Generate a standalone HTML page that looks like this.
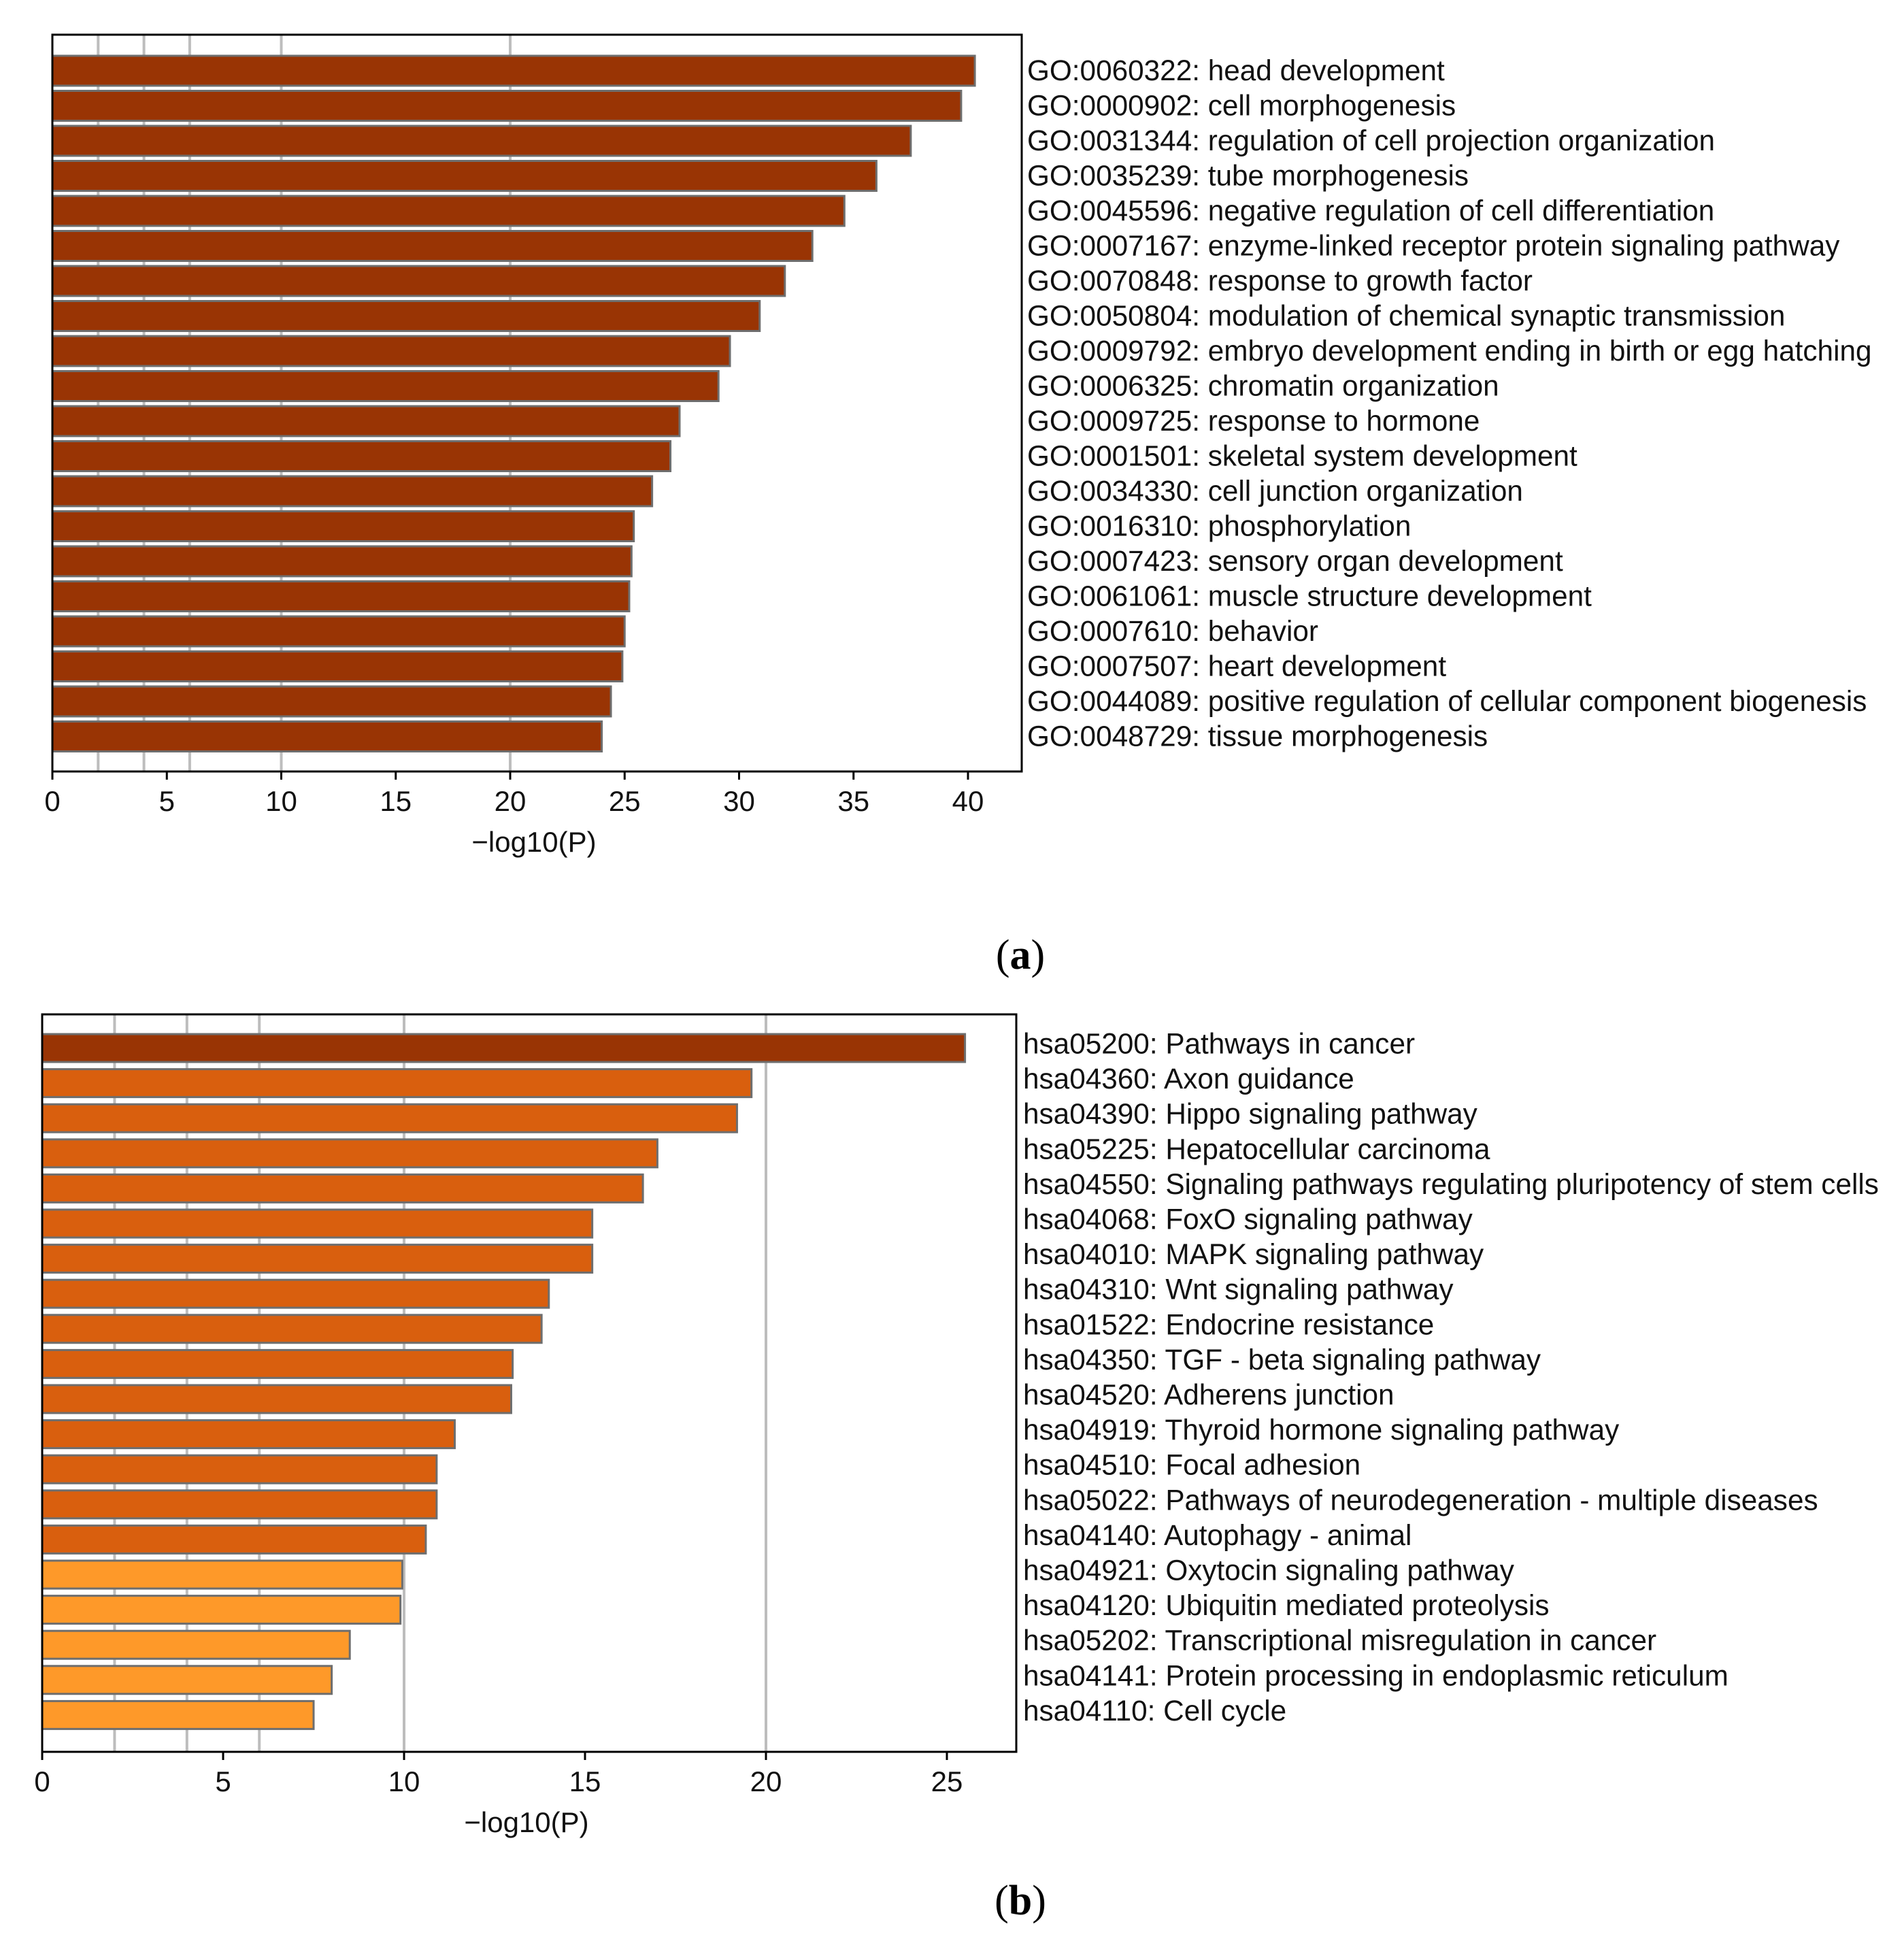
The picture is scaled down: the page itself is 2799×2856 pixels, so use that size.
<!DOCTYPE html>
<html><head><meta charset="utf-8"><style>
html,body{margin:0;padding:0;background:#fff;}
svg{display:block;font-family:"Liberation Sans",sans-serif;}
</style></head><body>
<svg id="root" width="2799" height="2856" viewBox="0 0 2799 2856" xmlns="http://www.w3.org/2000/svg">
<g id="chartA"></g>
<g id="chartB"></g>
<text x="1500" y="1424" text-anchor="middle" font-family="Liberation Serif,serif" font-size="62">(<tspan font-weight="bold">a</tspan>)</text>
<text x="1500" y="2814" text-anchor="middle" font-family="Liberation Serif,serif" font-size="62">(<tspan font-weight="bold">b</tspan>)</text>
</svg>
<script>
const aLabels = ["GO:0060322: head development","GO:0000902: cell morphogenesis","GO:0031344: regulation of cell projection organization","GO:0035239: tube morphogenesis","GO:0045596: negative regulation of cell differentiation","GO:0007167: enzyme-linked receptor protein signaling pathway","GO:0070848: response to growth factor","GO:0050804: modulation of chemical synaptic transmission","GO:0009792: embryo development ending in birth or egg hatching","GO:0006325: chromatin organization","GO:0009725: response to hormone","GO:0001501: skeletal system development","GO:0034330: cell junction organization","GO:0016310: phosphorylation","GO:0007423: sensory organ development","GO:0061061: muscle structure development","GO:0007610: behavior","GO:0007507: heart development","GO:0044089: positive regulation of cellular component biogenesis","GO:0048729: tissue morphogenesis"];
const aValues = [40.3,39.7,37.5,36.0,34.6,33.2,32.0,30.9,29.6,29.1,27.4,27.0,26.2,25.4,25.3,25.2,25.0,24.9,24.4,24.0];
const aColors = Array(20).fill(0);
const aTicks = [0,5,10,15,20,25,30,35,40];
const aGrid = [2,4,6,10,20];

const bLabels = ["hsa05200: Pathways in cancer","hsa04360: Axon guidance","hsa04390: Hippo signaling pathway","hsa05225: Hepatocellular carcinoma","hsa04550: Signaling pathways regulating pluripotency of stem cells","hsa04068: FoxO signaling pathway","hsa04010: MAPK signaling pathway","hsa04310: Wnt signaling pathway","hsa01522: Endocrine resistance","hsa04350: TGF - beta signaling pathway","hsa04520: Adherens junction","hsa04919: Thyroid hormone signaling pathway","hsa04510: Focal adhesion","hsa05022: Pathways of neurodegeneration - multiple diseases","hsa04140: Autophagy - animal","hsa04921: Oxytocin signaling pathway","hsa04120: Ubiquitin mediated proteolysis","hsa05202: Transcriptional misregulation in cancer","hsa04141: Protein processing in endoplasmic reticulum","hsa04110: Cell cycle"];
const bValues = [25.5,19.6,19.2,17.0,16.6,15.2,15.2,14.0,13.8,13.0,12.96,11.4,10.9,10.9,10.6,9.95,9.9,8.5,8.0,7.5];
const bColors = [0,1,1,1,1,1,1,1,1,1,1,1,1,1,1,2,2,2,2,2];
const bTicks = [0,5,10,15,20,25];
const bGrid = [2,4,6,10,20];

const palette = ["#993404","#d95f0e","#fe9929"];
const NS = "http://www.w3.org/2000/svg";
function mk(p, t, a){const e=document.createElementNS(NS,t);for(const k in a)e.setAttribute(k,a[k]);p.appendChild(e);return e;}

function draw(g, cfg, labels, values, colors, ticks, grid, prefix){
  const x = v => cfg.x0 + v*cfg.unit;
  const y = i => cfg.barTop + i*cfg.pitch;
  grid.forEach(v=>{
    const l=mk(g,'line',{x1:x(v),x2:x(v),y1:cfg.top,y2:cfg.bottom,stroke:'#bdbdbd','stroke-width':4});
    
    
  });
  values.forEach((v,i)=>{
    const r=mk(g,'rect',{x:x(0),y:y(i),width:x(v)-x(0),height:cfg.barH,fill:palette[colors[i]],stroke:'#6e6e6e','stroke-width':3});
    
    
    const t=mk(g,'text',{x:cfg.labelX,y:y(i)+cfg.barH/2+cfg.labelDy,'font-size':42.3,fill:'#111'});
    t.textContent=labels[i];
    
    
  });
  const f=mk(g,'rect',{x:cfg.x0,y:cfg.top,width:cfg.right-cfg.x0,height:cfg.bottom-cfg.top,fill:'none',stroke:'#000','stroke-width':3});
  
  
  ticks.forEach(v=>{
    const tk=mk(g,'line',{x1:x(v),x2:x(v),y1:cfg.bottom,y2:cfg.bottom+12,stroke:'#000','stroke-width':3});
    
    
    const tl=mk(g,'text',{x:x(v),y:cfg.bottom+58,'font-size':42,'text-anchor':'middle',fill:'#111'});
    tl.textContent=String(v);
    
    
  });
  const at=mk(g,'text',{x:cfg.titleX,y:cfg.bottom+118,'font-size':42,'text-anchor':'middle',fill:'#111'});
  at.textContent='\u2212log10(P)';
  
  
}
draw(document.getElementById('chartA'),
  {x0:77,unit:(1423-77)/40,top:51,bottom:1134,right:1502,barTop:82,pitch:51.5,barH:44,labelX:1510,labelDy:14,titleX:785},
  aLabels,aValues,aColors,aTicks,aGrid,'go');
draw(document.getElementById('chartB'),
  {x0:62,unit:(1392-62)/25,top:1491,bottom:2575,right:1494,barTop:1520,pitch:51.6,barH:41,labelX:1504,labelDy:8,titleX:774},
  bLabels,bValues,bColors,bTicks,bGrid,'kegg');
</script>
</body></html>
